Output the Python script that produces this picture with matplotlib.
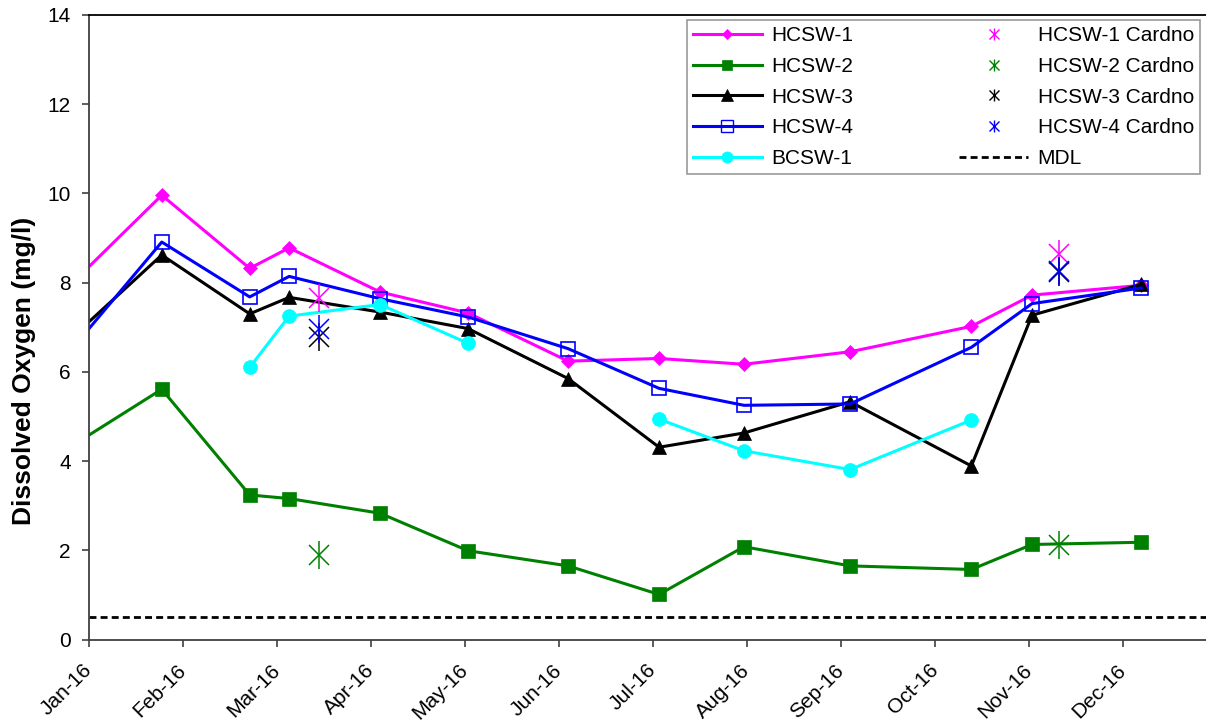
import matplotlib
matplotlib.use('Agg')
import matplotlib.pyplot as plt
from matplotlib.lines import Line2D
from matplotlib.legend_handler import HandlerTuple
import numpy as np
import pandas as pd

plt.rcParams['font.family'] = ['Liberation Sans', 'DejaVu Sans']

# sampling dates (the first one lies before the plotted window)
dates = ['2015-12-10', '2016-01-25', '2016-02-23', '2016-03-07', '2016-04-06',
         '2016-05-05', '2016-06-07', '2016-07-07', '2016-08-04', '2016-09-08',
         '2016-10-18', '2016-11-07', '2016-12-13']

hcsw1 = [6.89, 9.96, 8.32, 8.78, 7.79, 7.32, 6.24, 6.30, 6.17, 6.45, 7.02, 7.72, 7.94]
hcsw2 = [3.64, 5.61, 3.24, 3.16, 2.83, 1.99, 1.65, 1.01, 2.08, 1.65, 1.57, 2.13, 2.18]
hcsw3 = [5.75, 8.62, 7.30, 7.67, 7.34, 6.97, 5.85, 4.31, 4.63, 5.33, 3.89, 7.27, 7.96]
hcsw4 = [5.19, 8.91, 7.68, 8.14, 7.64, 7.23, 6.52, 5.63, 5.25, 5.28, 6.55, 7.53, 7.88]
bcsw1 = [np.nan, np.nan, 6.10, 7.25, 7.51, 6.64, np.nan, 4.94, 4.23, 3.81, 4.92, np.nan, np.nan]

# Cardno split samples
cardno_dates = ['2016-03-17', '2016-11-16']
hcsw1_cardno = [7.66, 8.65]
hcsw2_cardno = [1.89, 2.12]
hcsw3_cardno = [6.78, 8.24]
hcsw4_cardno = [6.95, 8.27]

mdl = 0.5

origin = pd.Timestamp('2016-01-01')


def to_days(ds):
    return np.array([(pd.Timestamp(d) - origin).days for d in ds], dtype=float)


x = to_days(dates)
xc = to_days(cardno_dates)

fig = plt.figure(figsize=(12.06, 7.25), dpi=100)
ax = fig.add_axes([89 / 1206, 85.5 / 725, 1123 / 1206, 624.5 / 725])

lw = 2.2
series = [
    ('HCSW-1', hcsw1, '#FF00FF', 'D', 7, '#FF00FF'),
    ('HCSW-2', hcsw2, '#008000', 's', 9.5, '#008000'),
    ('HCSW-3', hcsw3, '#000000', '^', 10, '#000000'),
    ('HCSW-4', hcsw4, '#0000FF', 's', 10, 'none'),
    ('BCSW-1', bcsw1, '#00FFFF', 'o', 10, '#00FFFF'),
]
handles = []
for name, vals, col, mk, ms, fc in series:
    ax.plot(x, vals, color=col, lw=lw, marker=mk, ms=ms, mfc=fc, mec=col,
            mew=1.2 if fc == 'none' else 0.5, clip_on=True)
    handles.append(Line2D([], [], color=col, lw=lw, marker=mk, ms=ms * 0.8,
                          mfc=fc, mec=col, mew=1.0 if fc == 'none' else 0.5))

cardno = [
    ('HCSW-1 Cardno', hcsw1_cardno, '#FF00FF'),
    ('HCSW-2 Cardno', hcsw2_cardno, '#008000'),
    ('HCSW-3 Cardno', hcsw3_cardno, '#000000'),
    ('HCSW-4 Cardno', hcsw4_cardno, '#0000FF'),
]
for name, vals, col in cardno:
    ax.plot(xc, vals, ls='none', marker='x', ms=14, mew=1.1, color=col)
    ax.plot(xc, vals, ls='none', marker='|', ms=20, mew=1.1, color=col)
    handles.append((Line2D([], [], ls='none', marker='x', ms=7, mew=1.0, color=col),
                    Line2D([], [], ls='none', marker='|', ms=9, mew=1.0, color=col)))

ax.axhline(mdl, color='black', lw=2.0, ls=(0, (2.5, 1.5)))
handles.append(Line2D([], [], color='black', lw=2.0, ls=(0, (2.5, 1.5))))

labels = [s[0] for s in series] + [c[0] for c in cardno] + ['MDL']

ax.set_ylim(0, 14)
ax.set_yticks(np.arange(0, 15, 2))
ax.set_xlim(0, 1123 * 31 / 94)
xticks = np.arange(12) * 31
ax.set_xticks(xticks)
ax.set_xticklabels([(origin + pd.Timedelta(days=int(t))).strftime('%b-%y') for t in xticks],
                   rotation=45, ha='right', va='center', rotation_mode='anchor')

ax.tick_params(axis='both', direction='out', length=5, width=1.2, color='#404040',
               labelsize=15)
ax.tick_params(axis='y', pad=8)
ax.tick_params(axis='x', pad=15)
for sp in ax.spines.values():
    sp.set_color('#404040')
    sp.set_linewidth(1.3)
ax.spines['top'].set_color('black')

ax.set_ylabel('Dissolved Oxygen (mg/l)', fontsize=19, fontweight='bold')
ax.yaxis.set_label_coords(-0.047, 0.43)

leg = ax.legend(handles, labels, ncol=2, loc='upper right',
                bbox_to_anchor=(1200 / 1206, 1 - 20 / 725), bbox_transform=fig.transFigure,
                borderaxespad=0, fontsize=15, frameon=True, fancybox=False,
                handlelength=3.3, handletextpad=0.45, columnspacing=5.1,
                borderpad=0.3, labelspacing=0.56,
                handler_map={tuple: HandlerTuple(ndivide=1)})
leg.get_frame().set_edgecolor('#808080')
leg.get_frame().set_linewidth(1.2)

fig.savefig('out.png', dpi=100)
